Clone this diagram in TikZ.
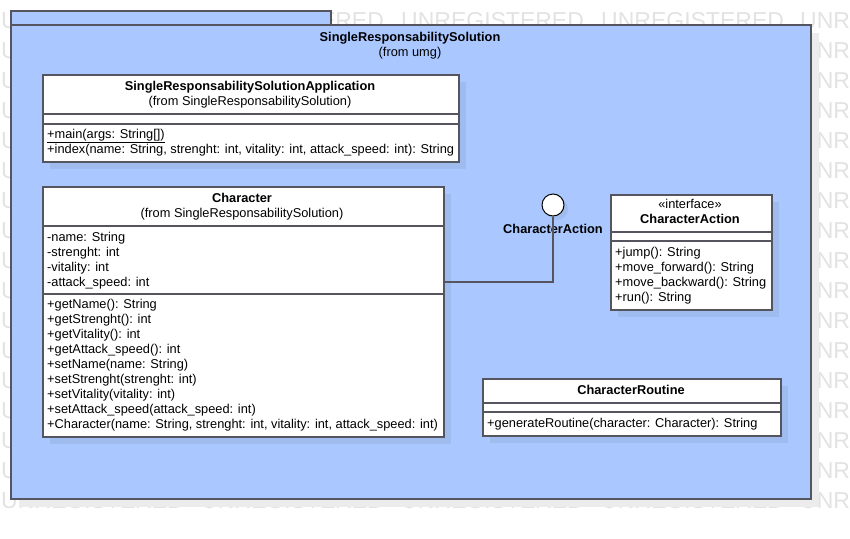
\documentclass[tikz,border=0pt]{standalone}
\usepackage{fontspec}
\setmainfont{Liberation Sans}
\usepackage{tikz}
\usetikzlibrary{shadows}

\definecolor{azul}{RGB}{170,200,255}
\definecolor{sombra}{RGB}{160,187,238}
\definecolor{gris}{RGB}{236,236,236}
\definecolor{borde}{RGB}{85,85,95}
\definecolor{marca}{RGB}{226,226,226}

\begin{document}
\begin{tikzpicture}[x=1pt, y=-1pt, font=\fontsize{12.8}{15}\selectfont,
    paquete/.style={draw=borde, line width=1.5pt, fill=azul, anchor=north west, inner sep=0pt},
    clase/.style={draw=borde, line width=1.5pt, fill=white, anchor=north west, inner sep=0pt,
        drop shadow={shadow xshift=7pt, shadow yshift=-7pt, fill=sombra, opacity=1}},
    separador/.style={draw=borde, line width=1.5pt},
    conector/.style={draw=borde, line width=1.5pt},
    texto/.style={inner sep=0pt, text height=11pt, text depth=2pt},
    titulo/.style={texto, font=\fontsize{12.8}{15}\selectfont\bfseries},
    origen/.style={texto},
    miembro/.style={texto, anchor=west},
    marcaagua/.style={anchor=west, inner sep=0pt, text=marca, font=\fontsize{23}{23}\selectfont}]

        \useasboundingbox (0,0) rectangle (850,538);
        \clip (0,0) rectangle (850,538);

        % Marca de agua (solo lo que asoma)
        \foreach \fila in {0,16}
            \foreach \col in {0,...,3}
                \node[marcaagua] (m\fila-\col) at (1+\col*200, 21+\fila*30) {UNREGISTERED};
        \foreach \fila in {0,16}
            \node[marcaagua] (m\fila-4) at (800, 21+\fila*30) {UNR};
        \foreach \fila in {1,...,15} {
            \node[marcaagua] (m\fila-0) at (1, 21+\fila*30) {U};
            \node[marcaagua] (m\fila-4) at (800, 21+\fila*30) {UNR};
        }

        % Paquete
        \node[paquete, minimum width=320, minimum height=14] (pestana) at (10,10) {};
        \node[paquete, minimum width=800, minimum height=474,
            drop shadow={shadow xshift=8pt, shadow yshift=-8pt, fill=gris, opacity=1}] (pkg) at (10,24) {};
        \node[titulo] (pkgNombre) at (410,37) {SingleResponsabilitySolution};
        \node[origen] (pkgOrigen) at (410,52) {(from umg)};

        % Clase principal
        \node[clase, minimum width=416, minimum height=87] (app) at (42,74) {};
        \draw[separador] (42,114) -- (458,114);
        \draw[separador] (42,124) -- (458,124);
        \node[titulo] (appNombre) at (250,86) {SingleResponsabilitySolutionApplication};
        \node[origen] (appOrigen) at (250,101) {(from SingleResponsabilitySolution)};
        \node[miembro] (appM1) at (47,134) {\underline{+main(args: String[])}};
        \node[miembro] (appM2) at (47,149) {+index(name: String, strenght: int, vitality: int, attack\_speed: int): String};

        % Clase Character
        \node[clase, minimum width=401, minimum height=250] (character) at (42,186) {};
        \draw[separador] (42,226) -- (443,226);
        \draw[separador] (42,294) -- (443,294);
        \node[titulo] (carNombre) at (242,198) {Character};
        \node[origen] (carOrigen) at (242,213) {(from SingleResponsabilitySolution)};
        \foreach \t [count=\i] in {-name: String, -strenght: int, -vitality: int, -attack\_speed: int}
            \node[miembro] (carA\i) at (47,222+15*\i) {\t};
        \foreach \t [count=\i] in {+getName(): String, +getStrenght(): int, +getVitality(): int,
                +getAttack\_speed(): int, +setName(name: String), +setStrenght(strenght: int),
                +setVitality(vitality: int), +setAttack\_speed(attack\_speed: int),
                {+Character(name: String, strenght: int, vitality: int, attack\_speed: int)}}
            \node[miembro] (carM\i) at (47,289+15*\i) {\t};

        % Interfaz (piruleta)
        \node[circle, draw=black, line width=1pt, fill=white, minimum size=22, inner sep=0pt,
            drop shadow={shadow xshift=4pt, shadow yshift=-4pt, fill=sombra, opacity=1}] (ifaz) at (553,205) {};
        \node[titulo] (ifazNombre) at (553,229) {CharacterAction};
        \draw[conector] (ifaz.south) |- (character.east |- 0,282);

        % Interfaz CharacterAction
        \node[clase, minimum width=161, minimum height=115] (accion) at (610,194) {};
        \draw[separador] (610,232) -- (771,232);
        \draw[separador] (610,241) -- (771,241);
        \node[origen] (accEstereotipo) at (690,204) {«interface»};
        \node[titulo] (accNombre) at (690,219) {CharacterAction};
        \foreach \t [count=\i] in {+jump(): String, +move\_forward(): String, +move\_backward(): String, +run(): String}
            \node[miembro] (accM\i) at (615,237+15*\i) {\t};

        % Clase CharacterRoutine
        \node[clase, minimum width=298, minimum height=57] (rutina) at (482,378) {};
        \draw[separador] (482,403) -- (780,403);
        \draw[separador] (482,412) -- (780,412);
        \node[titulo] (rutNombre) at (631,390) {CharacterRoutine};
        \node[miembro] (rutM1) at (487,423) {+generateRoutine(character: Character): String};
    \end{tikzpicture}
\end{document}
